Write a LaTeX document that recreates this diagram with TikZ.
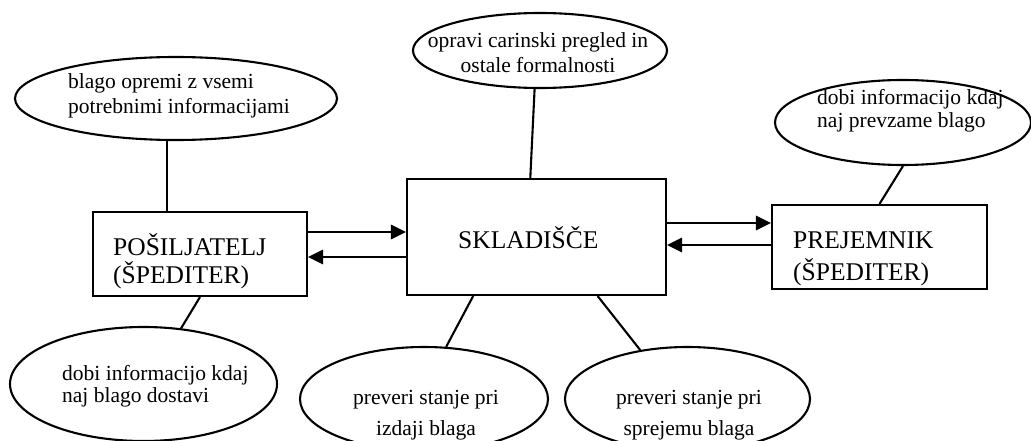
\documentclass[tikz,border=0pt]{standalone}
\usepackage{fontspec}
\setmainfont{Liberation Serif}
\usetikzlibrary{shapes.geometric,arrows.meta}
\begin{document}
\begin{tikzpicture}[x=1pt,y=-1pt,
  frame/.style={draw, line width=2.1pt, rectangle, inner sep=0pt},
  bubble/.style={draw, line width=2.1pt, ellipse, inner sep=0pt},
  link/.style={line width=2.1pt},
  flow/.style={line width=2.8pt, -{Triangle[length=15pt,width=14pt]}},
  small/.style={font=\fontsize{21.5}{25}\selectfont, inner sep=0pt},
  big/.style={font=\fontsize{25.5}{28}\selectfont, inner sep=0pt}]
\useasboundingbox (0,0) rectangle (1031,441);
\clip (0,0) rectangle (1031,441);

% tasks (ellipses)
\node[bubble, minimum width=322pt, minimum height=83pt]  (e1) at (176,98.5) {};
\node[bubble, minimum width=254pt, minimum height=75pt]  (e2) at (540,50.5) {};
\node[bubble, minimum width=256pt, minimum height=85pt]  (e3) at (903,122.5) {};
\node[bubble, minimum width=267pt, minimum height=114pt] (e4) at (143.5,384) {};
\node[bubble, minimum width=248pt, minimum height=104pt] (e5) at (424,399) {};
\node[bubble, minimum width=245pt, minimum height=104pt] (e6) at (687.5,399) {};

% parties (boxes)
\node[frame, minimum width=214pt, minimum height=84pt]  (b1) at (200,254) {};
\node[frame, minimum width=259pt, minimum height=116pt] (b2) at (536.5,237) {};
\node[frame, minimum width=215pt, minimum height=84pt]  (b3) at (879.5,247) {};

% text (anchored on the baseline of the last line)
\node[small, anchor=base west, align=left] (t1) at (68,114) {blago opremi z vsemi\\potrebnimi informacijami};
\node[small, anchor=base, align=center] (t2) at (538,73) {opravi carinski pregled in\\ostale formalnosti};
\node[small, font=\fontsize{21.5}{23}\selectfont, anchor=base west, align=left] (t3) at (817,128) {dobi informacijo kdaj\\naj prevzame blago};
\node[small, font=\fontsize{21.5}{22}\selectfont, anchor=base west, align=left] (t4) at (62,402) {dobi informacijo kdaj\\naj blago dostavi};
\node[small, font=\fontsize{21.5}{31}\selectfont, anchor=base, align=center] (t5) at (426,435) {preveri stanje pri\\izdaji blaga};
\node[small, font=\fontsize{21.5}{31}\selectfont, anchor=base, align=center] (t6) at (689,435) {preveri stanje pri\\sprejemu blaga};
\node[big, anchor=base west, align=left] (t7) at (113,283) {POŠILJATELJ\\(ŠPEDITER)};
\node[big, anchor=base west] (t8) at (458,248) {SKLADIŠČE};
\node[big, font=\fontsize{25.5}{32}\selectfont, anchor=base west, align=left] (t9) at (793,280) {PREJEMNIK\\(ŠPEDITER)};

% flow arrows
\coordinate (yA) at (0,232);
\coordinate (yB) at (0,257);
\coordinate (yC) at (0,223);
\coordinate (yD) at (0,245);
\draw[flow] (b1.east |- yA) -- (b2.west |- yA);
\draw[flow] (b2.west |- yB) -- (b1.east |- yB);
\draw[flow] (b2.east |- yC) -- (b3.west |- yC);
\draw[flow] (b3.west |- yD) -- (b2.east |- yD);

% links between tasks and parties
\draw[link] (e1.258) -- (e1.258 |- b1.north);
\draw[link] (e2.262) -- (b2.96);
\draw[link] (b3.north) -- (e3.south);
\draw[link] (b1.south) -- (e4.56);
\draw[link] (b2.223) -- (e5.67);
\draw[link] (b2.316) -- (e6.134);
\end{tikzpicture}
\end{document}
